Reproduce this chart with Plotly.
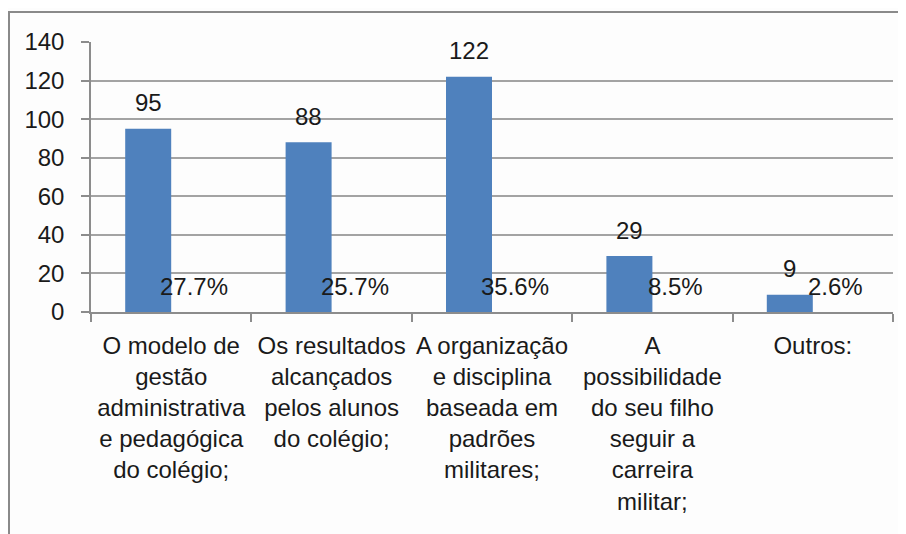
import plotly.graph_objects as go

categories = [
    "O modelo de<br>gestão<br>administrativa<br>e pedagógica<br>do colégio;",
    "Os resultados<br>alcançados<br>pelos alunos<br>do colégio;",
    "A organização<br>e disciplina<br>baseada em<br>padrões<br>militares;",
    "A<br>possibilidade<br>do seu filho<br>seguir a<br>carreira<br>militar;",
    "Outros:",
]
cat_ids = ["c1", "c2", "c3", "c4", "c5"]
counts = [95, 88, 122, 29, 9]
percents = [27.7, 25.7, 35.6, 8.5, 2.6]
y_ticks = [0, 20, 40, 60, 80, 100, 120, 140]

# page body has an 8px margin; the figure is sized to end at the window edge
W, H = 898, 526
ML, MR, MT, MB = 83, 13, 34, 222
BARGAP = 0.4264
FONT = "Liberation Sans, Arial, sans-serif"
TXT = "#1a1a1a"
GRID = "#a3a3a3"
AX = "#8c8c8c"

plot_w = W - ML - MR
plot_h = H - MT - MB
cat_px = plot_w / len(cat_ids)
bar_px = (1 - BARGAP) * cat_px / 2

fig = go.Figure()
fig.add_trace(go.Bar(x=cat_ids, y=counts, marker=dict(color="#4F81BD", line=dict(width=0)),
                     name="N", hoverinfo="y"))
fig.add_trace(go.Bar(x=cat_ids, y=[p / 100 for p in percents],
                     marker=dict(color="rgba(0,0,0,0)", line=dict(width=0)),
                     name="%", hoverinfo="skip"))

annotations = []
for cid, v in zip(cat_ids, counts):
    annotations.append(dict(x=cid, y=v, xref="x", yref="y", text=str(v), showarrow=False,
                            xshift=-bar_px / 2, yshift=26, yanchor="middle", xanchor="center",
                            font=dict(family=FONT, size=24, color=TXT)))
for cid, p in zip(cat_ids, percents):
    annotations.append(dict(x=cid, y=0, xref="x", yref="y", text=f"{p:.1f}%", showarrow=False,
                            xshift=bar_px / 2, yshift=26, yanchor="middle", xanchor="center",
                            font=dict(family=FONT, size=24, color=TXT)))

def px_x(px):
    return (px - ML) / plot_w

def px_y(py):
    return (H - MB - py) / plot_h

shapes = [
    dict(type="line", xref="paper", yref="paper", x0=px_x(0), x1=px_x(W), y0=px_y(4), y1=px_y(4),
         line=dict(color="#8a8a8a", width=2), layer="above"),
    dict(type="line", xref="paper", yref="paper", x0=px_x(1), x1=px_x(1), y0=px_y(4), y1=px_y(H),
         line=dict(color="#8a8a8a", width=2), layer="above"),
]

fig.update_layout(
    width=W, height=H,
    margin=dict(l=ML, r=MR, t=MT, b=MB, pad=0, autoexpand=False),
    paper_bgcolor="#fdfdfd", plot_bgcolor="#fdfdfd",
    barmode="group", bargap=BARGAP, bargroupgap=0,
    showlegend=False,
    font=dict(family=FONT, size=24, color=TXT),
    annotations=annotations,
    shapes=shapes,
    xaxis=dict(
        type="category", tickmode="array", tickvals=cat_ids, ticktext=categories,
        tickson="boundaries", ticks="outside", ticklen=8, tickcolor=AX, tickwidth=1.5,
        showline=True, linecolor=AX, linewidth=1.5, showgrid=False,
        ticklabelstandoff=11, tickangle=0, automargin=False,
        tickfont=dict(family=FONT, size=24, color=TXT),
        range=[-0.5, 4.5], fixedrange=True,
    ),
    yaxis=dict(
        range=[0, 140], tickmode="array", tickvals=y_ticks,
        ticks="outside", ticklen=8, tickcolor=AX, tickwidth=1.5,
        showline=True, linecolor=AX, linewidth=1.5,
        showgrid=True, gridcolor=GRID, gridwidth=2,
        zeroline=False, ticklabelstandoff=12, automargin=False,
        tickfont=dict(family=FONT, size=24, color=TXT), fixedrange=True,
    ),
)

fig.write_html("out.html")
